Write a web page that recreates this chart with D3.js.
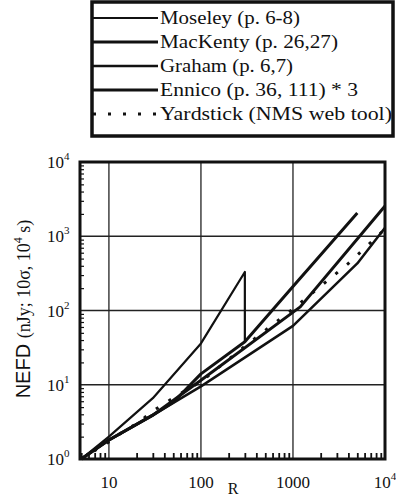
<!DOCTYPE html>
<meta charset="utf-8">
<style>
body { margin: 0; background: #fff; }
text { font-family: "Liberation Serif", "DejaVu Serif", serif; fill: #111; }
.grid { stroke: #222; stroke-width: 1.3px; }
.curve { fill: none; stroke: #111; stroke-linejoin: round; }
</style>
<svg width="396" height="500"></svg>
<script src="https://cdn.jsdelivr.net/npm/d3@7"></script>
<script>

// series (R, NEFD)
var moseleyR   = [5, 10, 30, 100, 300, 300]
var moseleyN   = [1, 2.0, 6.6, 36, 330, 38]
var mackentyR  = [5, 10, 30, 50, 100, 300, 1000, 5000]
var mackentyN  = [1, 1.8, 3.9, 5.8, 14, 38, 210, 2050]
var grahamR    = [5, 10, 30, 100, 1000, 5000, 10000]
var grahamN    = [1, 1.8, 3.9, 9.5, 62, 430, 1300]
var ennicoR    = [5, 10, 30, 100, 1200, 10000]
var ennicoN    = [1, 1.8, 3.9, 11.5, 112, 2550]
var yardR      = [5, 10, 14, 21, 29, 43, 61, 100, 300, 1000, 4000, 10000]
var yardN      = [1, 1.7, 2.3, 3.1, 4.3, 5.9, 7.7, 11, 33, 105, 430, 1250]

var legendNames = ["Moseley (p. 6-8)", "MacKenty (p. 26,27)", "Graham (p. 6,7)",
                   "Ennico (p. 36, 111) * 3", "Yardstick (NMS web tool)"]

var xTicks = [10, 100, 1000, 10000]
var xTickLabels = ["10", "100", "1000", "10^4"]
var yTicks = [1, 10, 100, 1000, 10000]
var yTickLabels = ["10^0", "10^1", "10^2", "10^3", "10^4"]

var svg = d3.select("svg")

var x = d3.scaleLog().domain([4.85, 10000]).range([80, 385])
var y = d3.scaleLog().domain([1, 10000]).range([459, 162])

var series = [
  {R: moseleyR, N: moseleyN, w: 2.2, dash: null, lw: 140},
  {R: mackentyR, N: mackentyN, w: 3, dash: null, lw: 178},
  {R: grahamR, N: grahamN, w: 2.5, dash: null, lw: 133},
  {R: ennicoR, N: ennicoN, w: 3, dash: null, lw: 198},
  {R: yardR, N: yardN, w: 3, dash: "3,12", lw: 232}
]

// grid at decades
svg.append("g").selectAll("line")
  .data(xTicks.slice(0, 3))
  .enter().append("line")
    .attr("class", "grid")
    .attr("x1", function(d) { return x(d) }).attr("x2", function(d) { return x(d) })
    .attr("y1", y.range()[0]).attr("y2", y.range()[1])

svg.append("g").selectAll("line")
  .data(yTicks.slice(1, 4))
  .enter().append("line")
    .attr("class", "grid")
    .attr("y1", function(d) { return y(d) }).attr("y2", function(d) { return y(d) })
    .attr("x1", x.range()[0]).attr("x2", x.range()[1])

// minor ticks, inward
var xMinor = x.ticks().filter(function(d) { return xTicks.indexOf(d) < 0 && d > 4.85 })
svg.append("g")
  .attr("transform", "translate(0," + y.range()[0] + ")")
  .call(d3.axisTop(x).tickValues(xMinor).tickSize(6).tickFormat(""))
  .call(function(g) { g.select(".domain").remove() })
  .selectAll("line").attr("stroke", "#111").attr("stroke-width", 1.8)

var yMinor = y.ticks().filter(function(d) { return yTicks.indexOf(d) < 0 })
svg.append("g")
  .attr("transform", "translate(" + x.range()[0] + ",0)")
  .call(d3.axisRight(y).tickValues(yMinor).tickSize(4).tickFormat(""))
  .call(function(g) { g.select(".domain").remove() })
  .selectAll("line").attr("stroke", "#111").attr("stroke-width", 1.2)

var line = d3.line()
  .x(function(d) { return x(d[0]) })
  .y(function(d) { return y(d[1]) })

svg.append("g").selectAll("path")
  .data(series)
  .enter().append("path")
    .attr("class", "curve")
    .attr("d", function(s) { return line(d3.zip(s.R, s.N)) })
    .attr("stroke-width", function(s) { return s.w })
    .attr("stroke-dasharray", function(s) { return s.dash })

// frame
svg.append("rect")
  .attr("x", x.range()[0]).attr("y", y.range()[1])
  .attr("width", x.range()[1] - x.range()[0])
  .attr("height", y.range()[0] - y.range()[1])
  .attr("fill", "none").attr("stroke", "#111").attr("stroke-width", 3)

function powLabel(sel, txt) {
  var parts = txt.split("^")
  sel.text(parts[0])
  if (parts.length > 1) {
    sel.append("tspan").attr("dy", -8).style("font-size", "11px").text(parts[1])
  }
}

svg.append("g").selectAll("text")
  .data(xTicks)
  .enter().append("text")
    .attr("x", function(d) { return x(d) })
    .attr("y", 488)
    .attr("text-anchor", "middle")
    .style("font-size", "17px")
    .each(function(d, i) { powLabel(d3.select(this), xTickLabels[i]) })

svg.append("g").selectAll("text")
  .data(yTicks)
  .enter().append("text")
    .attr("x", 47)
    .attr("y", function(d) { return y(d) + 6 })
    .style("font-size", "17px")
    .each(function(d, i) { powLabel(d3.select(this), yTickLabels[i]) })

svg.append("text")
  .attr("x", 233).attr("y", 494)
  .attr("text-anchor", "middle")
  .style("font-size", "16px")
  .text("R")

var yTitle = svg.append("text")
  .attr("transform", "translate(30,309) rotate(-90)")
  .attr("text-anchor", "middle")
  .style("font-size", "18px")
yTitle.append("tspan").style("font-family", "'Liberation Sans', Arial, sans-serif").style("font-size", "20px").text("NEFD ")
yTitle.append("tspan").text("(nJy; 10σ, 10")
yTitle.append("tspan").attr("dy", -8).style("font-size", "12px").text("4")
yTitle.append("tspan").attr("dy", 8).text(" s)")

// legend
var legend = svg.append("g")
legend.append("rect")
  .attr("x", 92).attr("y", 2).attr("width", 301).attr("height", 134)
  .attr("fill", "#fff").attr("stroke", "#111").attr("stroke-width", 3.5)

var rows = legend.selectAll("g.row")
  .data(series)
  .enter().append("g")
    .attr("class", "row")
    .attr("transform", function(d, i) { return "translate(0," + (18 + i * 24) + ")" })

rows.append("line")
  .attr("x1", 93).attr("x2", 158)
  .attr("stroke", "#111")
  .attr("stroke-width", function(s) { return s.w })
  .attr("stroke-dasharray", function(s) { return s.dash })

rows.append("text")
  .attr("x", 160).attr("y", 6)
  .style("font-size", "18px")
  .attr("textLength", function(s) { return s.lw })
  .attr("lengthAdjust", "spacingAndGlyphs")
  .text(function(d, i) { return legendNames[i] })

</script>
